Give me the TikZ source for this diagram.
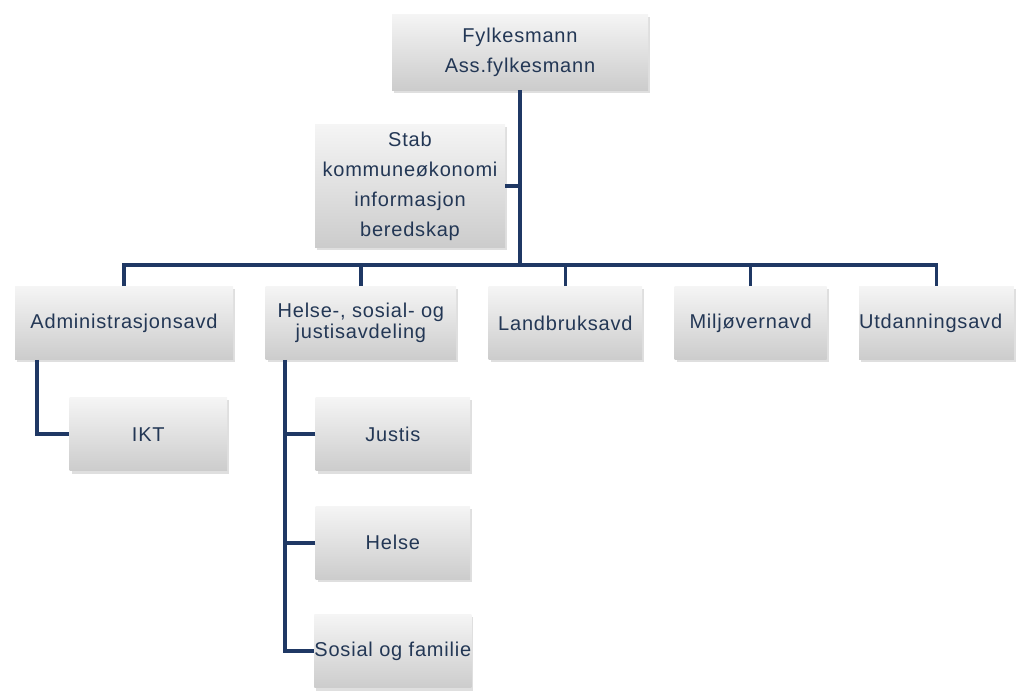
\documentclass[tikz,border=0pt]{standalone}
\usepackage{fontspec}
\usetikzlibrary{positioning,shadows}
\newfontfamily\orgfont[LetterSpace=4]{Liberation Sans}
\definecolor{linjeblaa}{RGB}{31,56,100}
\definecolor{tekstblaa}{RGB}{35,55,85}

\begin{document}
\begin{tikzpicture}[%
      every node/.style={rectangle, inner sep=0pt, align=center, text=tekstblaa,
        font=\orgfont\fontsize{15}{22.5}\selectfont},
      boks/.style={top color=black!4, middle color=white, bottom color=black!20,
        drop shadow={shadow xshift=1.5pt, shadow yshift=-2pt, opacity=0.25},
        minimum height=55pt},
      linje/.style={draw=linjeblaa, line width=2.8pt},
      node distance=24pt
    ]
    \useasboundingbox (0,0) rectangle (763.5pt,-519.75pt);
    \clip (0,0) rectangle (763.5pt,-519.75pt);
    % topp og stab
    \node [boks, minimum width=192pt, minimum height=57pt] (topp) at (390pt,-39pt) {Fylkesmann\\Ass.fylkesmann};
    \node [boks, minimum width=142.5pt, minimum height=92pt] (stab) at (307.5pt,-139.5pt) {Stab\\kommune\o konomi\\informasjon\\beredskap};
    % avdelinger
    \node [boks, minimum width=163.5pt] (admin) at (93pt,-242.25pt) {Administrasjonsavd};
    \node [boks, minimum width=143pt, right=of admin, font=\orgfont\fontsize{15}{15.5}\selectfont] (hsj) {Helse-, sosial- og\\justisavdeling};
    \node [boks, minimum width=115pt, right=of hsj] (landbruk) {Landbruksavd};
    \node [boks, minimum width=114pt, right=of landbruk] (miljo) {Milj\o vernavd};
    \node [boks, text width=116pt, align=left, right=of miljo] (utd) {Utdanningsavd};
    % underenheter
    \node [boks, minimum width=118pt, below=28pt of admin.south west, anchor=north west, xshift=41pt] (ikt) {IKT};
    \node [boks, minimum width=116pt, below=28pt of hsj.south west, anchor=north west, xshift=37.5pt] (justis) {Justis};
    \node [boks, minimum width=116pt, below=26pt of justis] (helse) {Helse};
    \node [boks, minimum width=116pt, below=26pt of helse] (sosial) {Sosial og familie};

    \coordinate (buss) at ([yshift=-198.75pt]topp |- 0,0);
    \coordinate (hsjlinje) at ([xshift=15pt]hsj.south west);
    \coordinate (adminlinje) at ([xshift=16.5pt]admin.south west);
    \path [linje] (topp.south) -- (buss)
    (stab.east) -- (stab.east -| buss)
    (admin.north) |- (utd.north |- buss) -- (utd.north)
    (adminlinje) |- (ikt.west)
    (hsjlinje) |- (sosial.west)
    (justis.west) -- (justis.west -| hsjlinje)
    (helse.west) -- (helse.west -| hsjlinje);
    \foreach \n in {hsj,landbruk,miljo}
      \path [linje] (\n.north) -- (\n.north |- buss);
  \end{tikzpicture}
\end{document}
